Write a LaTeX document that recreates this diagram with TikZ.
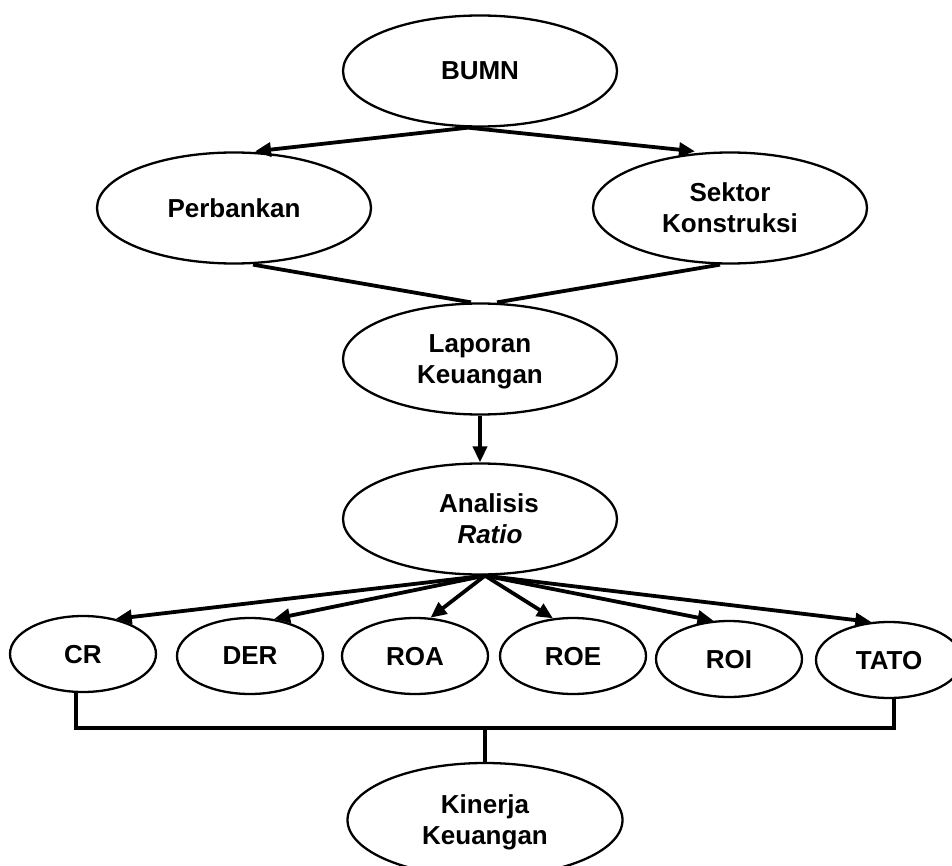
\documentclass[tikz,border=0pt]{standalone}
\usepackage{fontspec}
\setmainfont{Liberation Sans}
\usetikzlibrary{shapes.geometric,arrows.meta,calc}
\begin{document}
\begin{tikzpicture}[x=1pt,y=-1pt,
  box/.style={ellipse,draw,line width=2.3pt,inner sep=0pt,align=center,text depth=0pt,
    font=\bfseries\fontsize{26}{31}\selectfont},
  big/.style={box,minimum width=274pt,minimum height=111pt},
  small/.style={box,minimum width=146pt,minimum height=76pt},
  conn/.style={line width=3.8pt},
  arr/.style={conn,-{Triangle[length=16pt,width=14pt]}}]
\useasboundingbox (0,0) rectangle (952,866);
\clip (0,0) rectangle (952,866);
% nodes
\node[big] (bumn) at (480,71) {BUMN};
\node[big] (perb) at (234,208) {Perbankan};
\node[big] (sek) at (730,208) {Sektor\\Konstruksi};
\node[big] (lap) at (480,359) {Laporan\\Keuangan};
\node[big] (ana) at (480,519) {\hspace*{18pt}Analisis\\\hspace*{20pt}\textit{Ratio}};
\node[small] (cr) at (83,654) {CR};
\node[small] (der) at (250,656) {DER};
\node[small] (roa) at (415,656) {ROA};
\node[small] (roe) at (573,656) {ROE};
\node[small] (roi) at (729,659) {ROI};
\node[small] (tato) at (889,660) {TATO};
\node[big,minimum width=275pt,minimum height=114pt] (kin) at (485,820) {Kinerja\\Keuangan};
% connectors
\coordinate (b0) at ($(bumn.south)+(-12,0)$);
\draw[arr] (b0) -- ($(perb.north)+(21,0)$);
\draw[arr] (b0) -- ($(sek.north)+(-35,0)$);
\draw[conn] ($(perb.south)+(19,0)$) -- ($(lap.north)+(-9,0)$);
\draw[conn] ($(sek.south)+(-10,0)$) -- ($(lap.north)+(17,0)$);
\draw[arr] (lap.south) -- (ana.north);
\coordinate (f0) at ($(ana.south)+(5,0)$);
\draw[arr] (f0) -- (cr.47);
\draw[arr] (f0) -- (der.57);
\draw[arr] (f0) -- (roa.68);
\draw[arr] (f0) -- (roe.118);
\draw[arr] (f0) -- (roi.112);
\draw[arr] (f0) -- (tato.115);
\coordinate (brk) at (485,728);
\draw[conn] ($(cr.south)+(-7,0)$) |- (brk) -| ($(tato.south)+(5,0)$);
\draw[conn] (brk) -- (kin.north);
\end{tikzpicture}
\end{document}
